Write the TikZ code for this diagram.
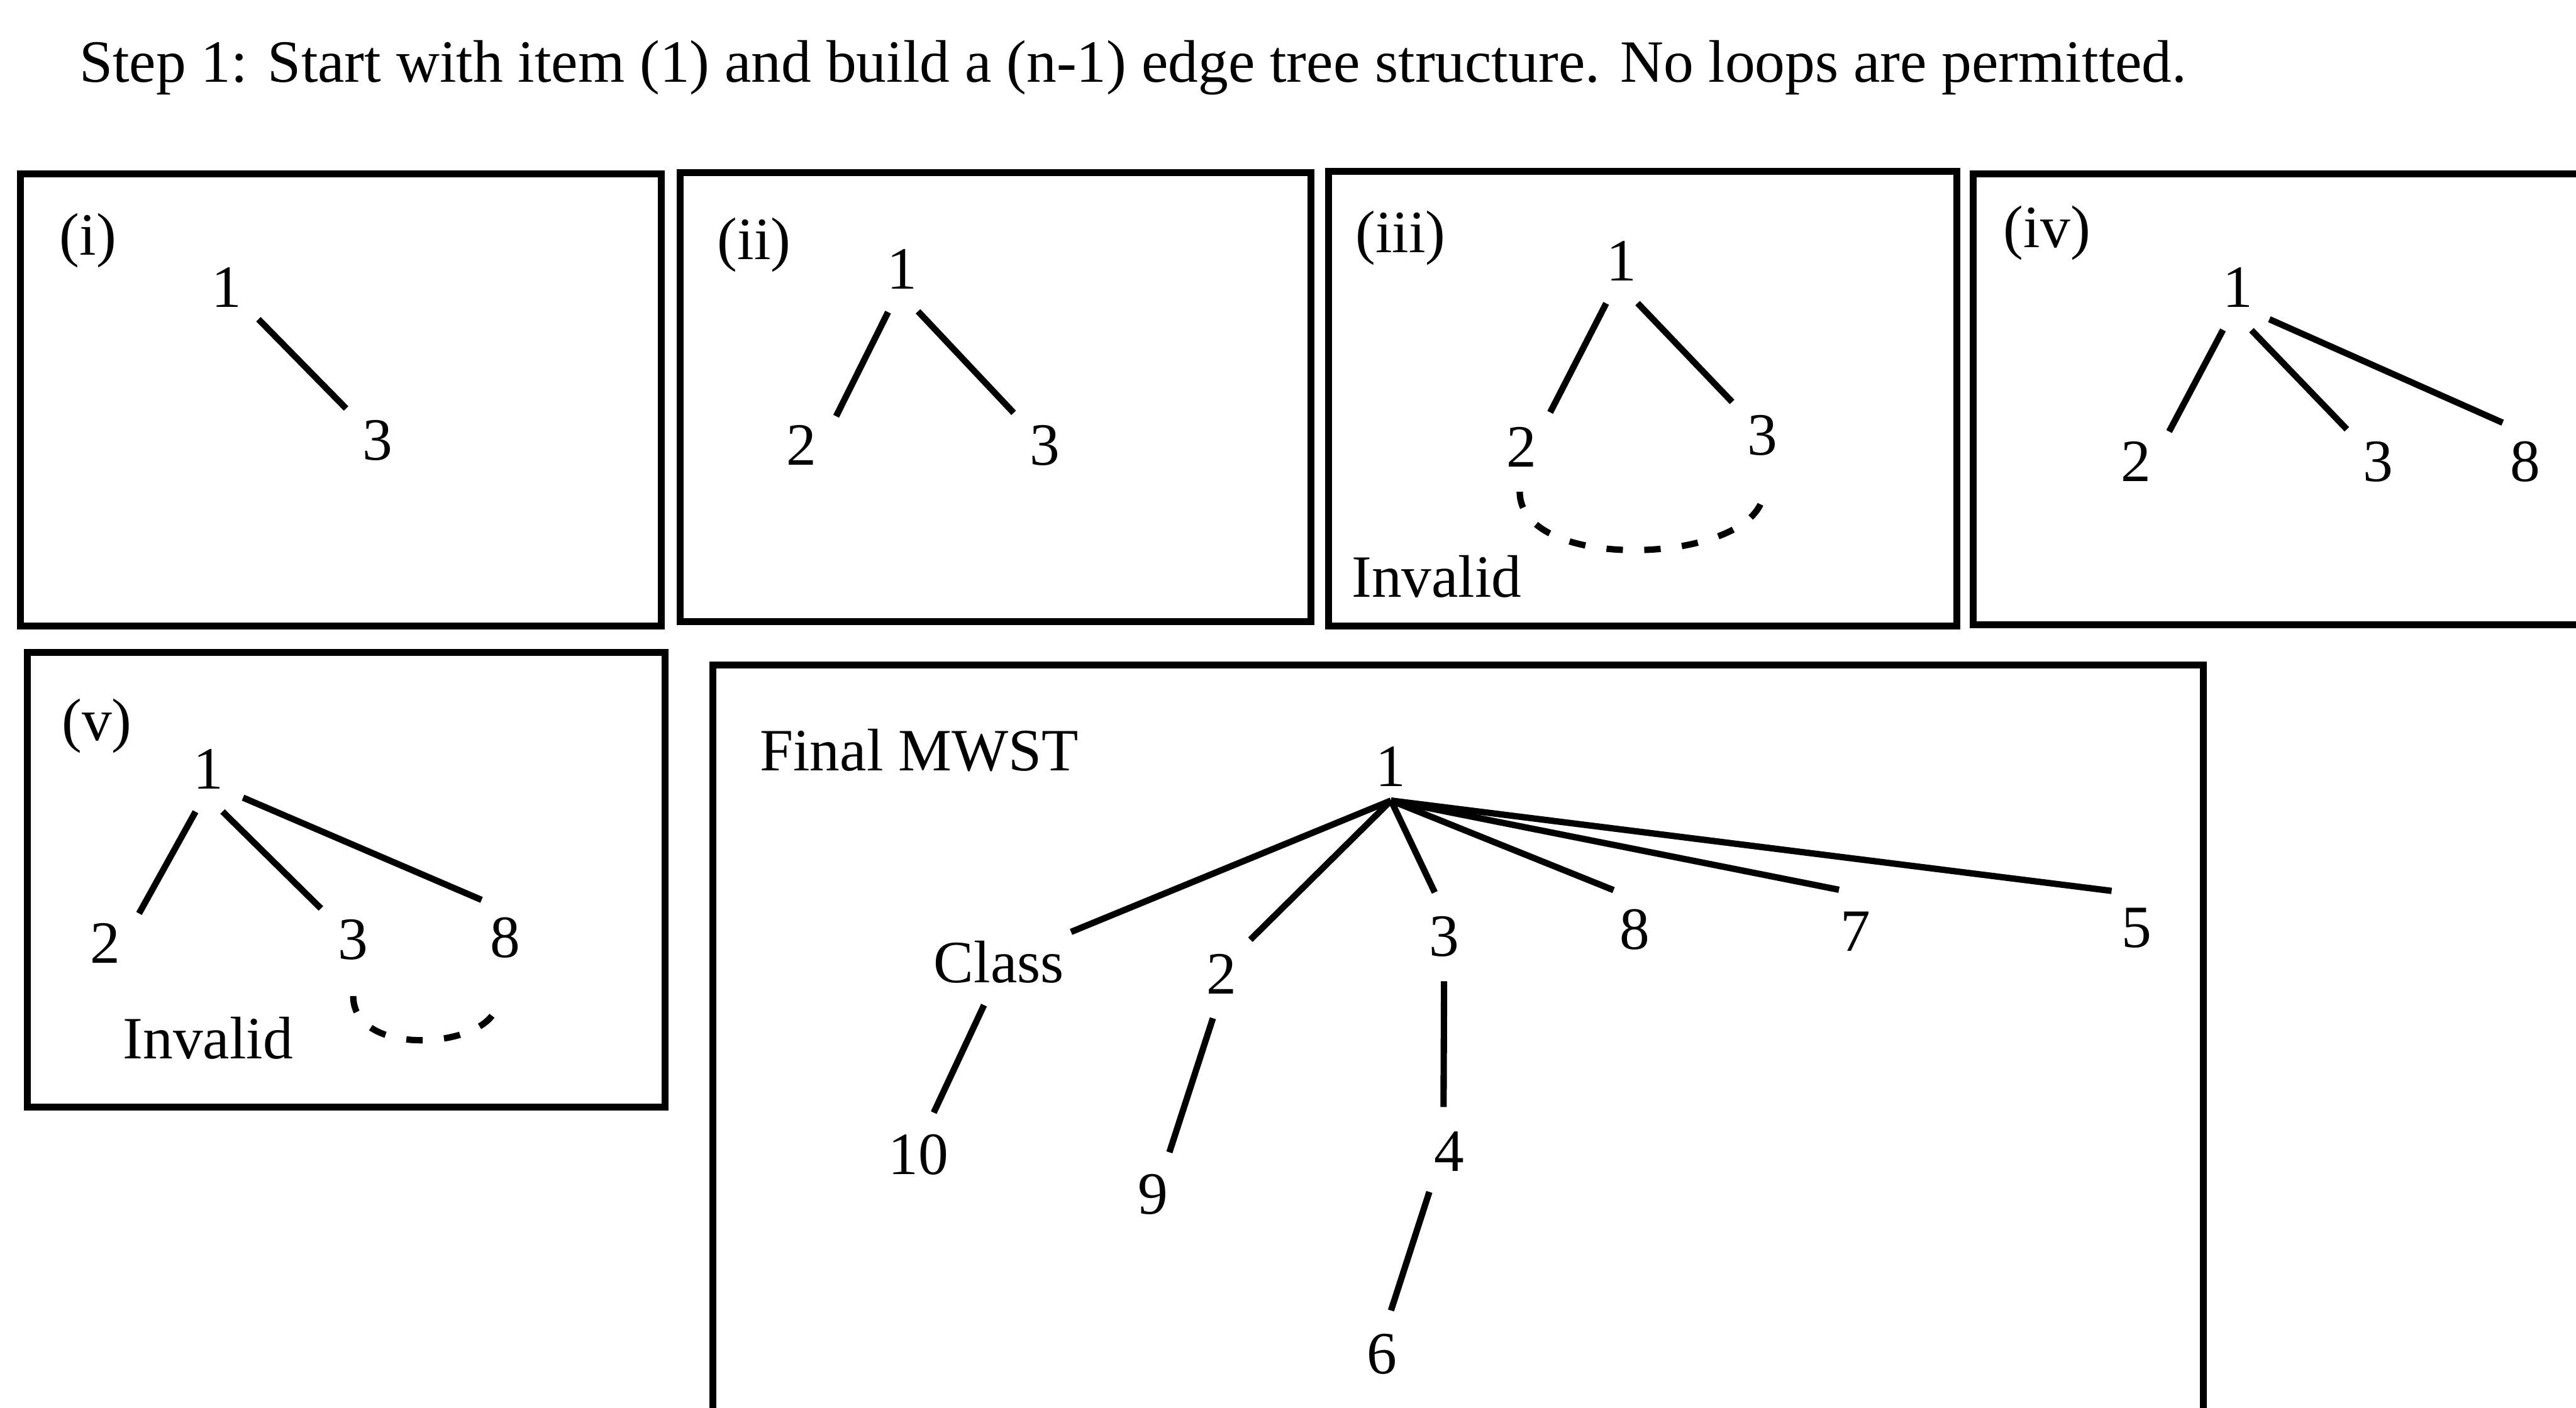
\documentclass[tikz,border=0pt]{standalone}
\usepackage{fontspec}
\setmainfont{Liberation Serif}
\usepackage{tikz}

\begin{document}
\begin{tikzpicture}[x=0.02cm, y=-0.02cm,
  font=\fontsize{20.8}{25}\selectfont,
  item/.style={circle, inner sep=0pt, minimum size=1.08cm},
  tag/.style={inner sep=0pt},
  panel/.style={line width=2.4pt},
  edge/.style={line width=2.2pt},
  invalid/.style={line width=2.2pt, dash pattern=on 0.2cm off 0.26cm}]

\clip (0,0) rectangle (1568,857);

% Title
\node[tag, anchor=base west] (title) at (48,50) {Step 1: Start with item (1) and build a (n-1) edge tree structure. No loops are permitted.};

% Draw panels
\draw[panel] (12.5,106) rectangle (402.5,381);
\draw[panel] (414,105) rectangle (798,378.5);
\draw[panel] (808.5,104.5) rectangle (1191,381);
\draw[panel] (1201,106) rectangle (1600,380.5);
\draw[panel] (16.5,397) rectangle (405,674);
\draw[panel] (434,405) rectangle (1341,900);

% Panel (i)
\node[tag] (labi) at (53.6,146.6) {(i)};
\node[item] (i1) at (138,175) {1};
\node[item] (i3) at (230,268) {3};
\draw[edge] (i1.-45) -- (i3.135);

% Panel (ii)
\node[tag] (labii) at (459,149) {(ii)};
\node[item] (ii1) at (549,164) {1};
\node[item] (ii2) at (488,271) {2};
\node[item] (ii3) at (636,271) {3};
\draw[edge] (ii1.-108) -- (ii2.40);
\draw[edge] (ii1.-69) -- (ii3.134);

% Panel (iii), the loop is invalid
\node[tag] (labiii) at (852.5,145) {(iii)};
\node[item] (iii1) at (987,159) {1};
\node[item] (iii2) at (926,272) {2};
\node[item] (iii3) at (1072.6,265) {3};
\draw[edge] (iii1.-110) -- (iii2.50);
\draw[edge] (iii1.-69) -- (iii3.132);
\draw[invalid, shorten >=0.12cm] (iii2.-92) .. controls +(0,51) and +(0,51) .. (iii3.-88);
\node[tag] (badiii) at (874.5,351) {Invalid};

% Panel (iv)
\node[tag] (labiv) at (1246,142) {(iv)};
\node[item] (iv1) at (1362,175) {1};
\node[item] (iv2) at (1300,281) {2};
\node[item] (iv3) at (1447.5,281) {3};
\node[item] (iv8) at (1537,281) {8};
\draw[edge] (iv1.-109) -- (iv2.42);
\draw[edge] (iv1.-72) -- (iv3.134);
\draw[edge] (iv1.-45) -- (iv8.120);

% Panel (v), the loop is invalid
\node[tag] (labv) at (59,442) {(v)};
\node[item] (v1) at (127,468) {1};
\node[item] (v2) at (64,574) {2};
\node[item] (v3) at (215,572) {3};
\node[item] (v8) at (307.6,571) {8};
\draw[edge] (v1.-107) -- (v2.41);
\draw[edge] (v1.-72) -- (v3.136);
\draw[edge] (v1.-40) -- (v8.122);
\draw[invalid, shorten <=0.14cm, shorten >=0.28cm] (v3.-90) .. controls +(0,45) and +(-8,40) .. (v8.-95);
\node[tag] (badv) at (126.6,632) {Invalid};

% Final MWST
\node[tag] (final) at (559.5,456.8) {Final MWST};
\node[item, minimum size=0.82cm] (f1) at (846.7,466.5) {1};
\node[tag, inner xsep=0.08cm, inner ysep=0.1cm] (fclass) at (608,585.5) {Class};
\node[item] (f2) at (743.5,593) {2};
\node[item] (f3) at (879,570) {3};
\node[item] (f8) at (995,566) {8};
\node[item] (f7) at (1129.6,567) {7};
\node[item] (f5) at (1300.6,565) {5};
\node[item] (f10) at (559,703) {10};
\node[item] (f9) at (702,727) {9};
\node[item] (f4) at (882,701) {4};
\node[item] (f6) at (841,824.5) {6};

\draw[edge] (f1.south) -- (fclass.north east);
\draw[edge] (f1.south) -- (f2.50);
\draw[edge] (f1.south) -- (f3.102);
\draw[edge] (f1.south) -- (f8.118);
\draw[edge] (f1.south) -- (f7.112);
\draw[edge] (f1.south) -- (f5.124);
\draw[edge, shorten <=0.18cm] (fclass.-106) -- (f10.70);
\draw[edge] (f2.-101) -- (f9.69);
\draw[edge] (f3.-90) -- (f4.97);
\draw[edge] (f4.-116) -- (f6.78);

\end{tikzpicture}
\end{document}
